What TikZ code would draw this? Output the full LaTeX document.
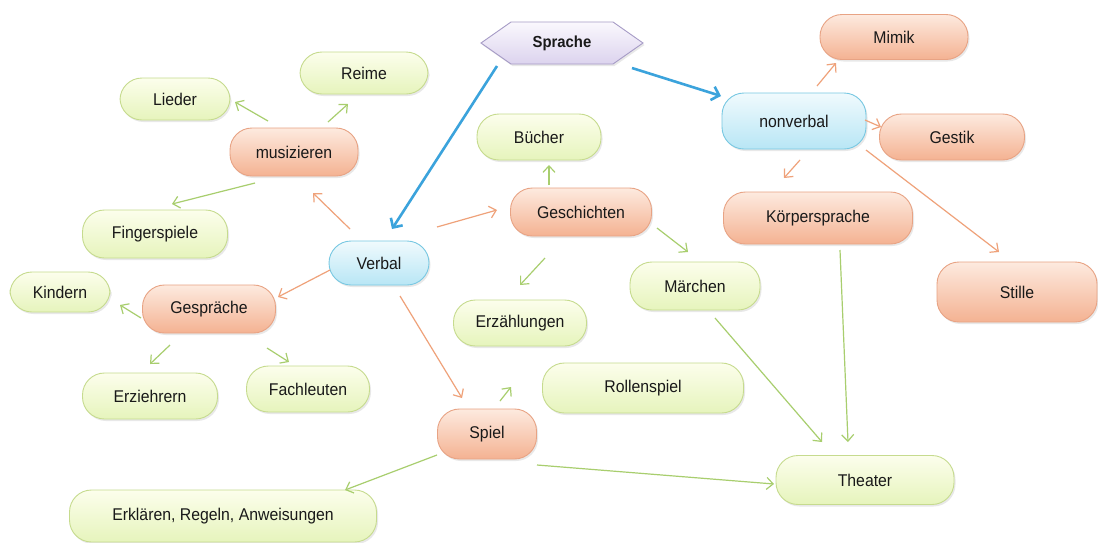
\documentclass[tikz,border=0pt]{standalone}
\usepackage{fontspec}
\setmainfont{Liberation Sans}[FakeStretch=0.93]
\usetikzlibrary{shapes.symbols,shadows,arrows.meta}
\definecolor{gtop}{HTML}{FCFEEC}
\definecolor{gbot}{HTML}{E6F4BC}
\definecolor{gdraw}{HTML}{C6DB8E}
\definecolor{otop}{HTML}{FDEADF}
\definecolor{obot}{HTML}{F4B292}
\definecolor{odraw}{HTML}{E8A384}
\definecolor{btop}{HTML}{F0FAFD}
\definecolor{bbot}{HTML}{B8E6F5}
\definecolor{bdraw}{HTML}{78C8E2}
\definecolor{htop}{HTML}{FAF8FD}
\definecolor{hbot}{HTML}{DCD3EE}
\definecolor{hdraw}{HTML}{A69BC6}
\definecolor{garr}{HTML}{A8CE6E}
\definecolor{oarr}{HTML}{EFA27A}
\definecolor{barr}{HTML}{3BA3DC}
\tikzset{
  base/.style={rectangle, rounded corners=22pt, line width=0.9pt, inner sep=0pt,
    font=\fontsize{17}{19}\selectfont, text=black!90,
    drop shadow={opacity=0.18, shadow xshift=1.5pt, shadow yshift=-2pt}},
  gbox/.style={base, draw=gdraw, top color=gtop, bottom color=gbot},
  obox/.style={base, draw=odraw, top color=otop, bottom color=obot},
  bbox/.style={base, draw=bdraw, top color=btop, bottom color=bbot},
  sz/.style 2 args={minimum width=#1pt, minimum height=#2pt},
  garrow/.style={draw=garr, line width=1.2pt, -{Straight Barb[length=6.5pt,width=12pt]}},
  oarrow/.style={draw=oarr, line width=1.2pt, -{Straight Barb[length=6.5pt,width=12pt]}},
  barrow/.style={draw=barr, line width=2.6pt, -{Straight Barb[length=7pt,width=14pt]}},
}
\begin{document}
\begin{tikzpicture}[x=1pt,y=-1pt]
\useasboundingbox (0,0) rectangle (1098,542);
\fill[white] (0,0) rectangle (1098,542);
% nodes
\node[signal, signal to=west and east, signal pointer angle=70, draw=hdraw, line width=0.9pt,
  top color=htop, bottom color=hbot, minimum width=162pt, minimum height=42pt, inner sep=0pt,
  font=\fontsize{16}{18}\selectfont\bfseries, text=black!90,
  drop shadow={opacity=0.18, shadow xshift=1.5pt, shadow yshift=-2pt}] (sprache) at (562,43) {Sprache};
\node[gbox, sz={128}{42}] (reime) at (364,73) {Reime};
\node[gbox, sz={110}{42}] (lieder) at (175,99) {Lieder};
\node[obox, sz={128}{48}] (musiz) at (294,152) {musizieren};
\node[obox, sz={148}{45}] (mimik) at (894,37) {Mimik};
\node[bbox, sz={144}{56}] (nonverbal) at (794,121) {nonverbal};
\node[obox, sz={145}{46}] (gestik) at (952,137) {Gestik};
\node[gbox, sz={124}{46}] (buecher) at (539,137) {Bücher};
\node[obox, sz={141}{48}] (geschichten) at (581,212) {Geschichten};
\node[obox, sz={189}{52}] (koerper) at (818,218) {Körpersprache};
\node[gbox, sz={145}{48}] (finger) at (155,234) {Fingerspiele};
\node[bbox, sz={100}{44}] (verbal) at (379,263) {Verbal};
\node[gbox, sz={100}{40}] (kindern) at (60,292) {Kindern};
\node[obox, sz={133}{48}] (gespraeche) at (209,309) {Gespräche};
\node[gbox, sz={130}{48}] (maerchen) at (695,286) {Märchen};
\node[obox, sz={160}{60}] (stille) at (1017,292) {Stille};
\node[gbox, sz={133}{46}] (erzaehl) at (520,323) {Erzählungen};
\node[gbox, sz={135}{46}] (erzieh) at (150,396) {Erziehrern};
\node[gbox, sz={123}{46}] (fach) at (308,389) {Fachleuten};
\node[gbox, sz={201}{50}] (rollen) at (643,388) {Rollenspiel};
\node[obox, sz={99}{50}] (spiel) at (487,434) {Spiel};
\node[gbox, sz={178}{49}] (theater) at (865,480) {Theater};
\node[gbox, sz={307}{52}] (erklaeren) at (223,516) {Erklären, Regeln, Anweisungen};
% free arrow ends
\coordinate (a1s) at (497,66);  \coordinate (a1e) at (392,229);
\coordinate (a2s) at (632,68);  \coordinate (a2e) at (721,96);
\coordinate (m1s) at (268,121); \coordinate (m1e) at (235,102);
\coordinate (m2s) at (328,122); \coordinate (m2e) at (348,104);
\coordinate (m3s) at (255,183); \coordinate (m3e) at (172,204);
\coordinate (v1s) at (350,229); \coordinate (v1e) at (313,193);
\coordinate (v2s) at (437,227); \coordinate (v2e) at (497,210);
\coordinate (v3s) at (330,270); \coordinate (v3e) at (278,297);
\coordinate (v4s) at (400,296); \coordinate (v4e) at (462,398);
\coordinate (g1s) at (549,185); \coordinate (g1e) at (549,165);
\coordinate (g2s) at (657,228); \coordinate (g2e) at (688,252);
\coordinate (g3s) at (545,258); \coordinate (g3e) at (520,285);
\coordinate (p1s) at (141,318); \coordinate (p1e) at (120,305);
\coordinate (p2s) at (170,345); \coordinate (p2e) at (150,364);
\coordinate (p3s) at (267,348); \coordinate (p3e) at (289,362);
\coordinate (s1s) at (500,401); \coordinate (s1e) at (511,387);
\coordinate (s2s) at (437,455); \coordinate (s2e) at (345,490);
\coordinate (s3s) at (537,465); \coordinate (s3e) at (774,484);
\coordinate (t1s) at (715,318); \coordinate (t1e) at (822,442);
\coordinate (t2s) at (840,250); \coordinate (t2e) at (848,442);
\coordinate (n1s) at (817,86);  \coordinate (n1e) at (836,63);
\coordinate (n2s) at (865,120); \coordinate (n2e) at (881,127);
\coordinate (n3s) at (800,160); \coordinate (n3e) at (784,178);
\coordinate (n4s) at (866,150); \coordinate (n4e) at (999,252);
% connectors
\draw[barrow] (a1s) -- (a1e);
\draw[barrow] (a2s) -- (a2e);
\draw[garrow] (m1s) -- (m1e);
\draw[garrow] (m2s) -- (m2e);
\draw[garrow] (m3s) -- (m3e);
\draw[oarrow] (v1s) -- (v1e);
\draw[oarrow] (v2s) -- (v2e);
\draw[oarrow] (v3s) -- (v3e);
\draw[oarrow] (v4s) -- (v4e);
\draw[garrow] (g1s) -- (g1e);
\draw[garrow] (g2s) -- (g2e);
\draw[garrow] (g3s) -- (g3e);
\draw[garrow] (p1s) -- (p1e);
\draw[garrow] (p2s) -- (p2e);
\draw[garrow] (p3s) -- (p3e);
\draw[garrow] (s1s) -- (s1e);
\draw[garrow] (s2s) -- (s2e);
\draw[garrow] (s3s) -- (s3e);
\draw[garrow] (t1s) -- (t1e);
\draw[garrow] (t2s) -- (t2e);
\draw[oarrow] (n1s) -- (n1e);
\draw[oarrow] (n2s) -- (n2e);
\draw[oarrow] (n3s) -- (n3e);
\draw[oarrow] (n4s) -- (n4e);
\end{tikzpicture}
\end{document}
